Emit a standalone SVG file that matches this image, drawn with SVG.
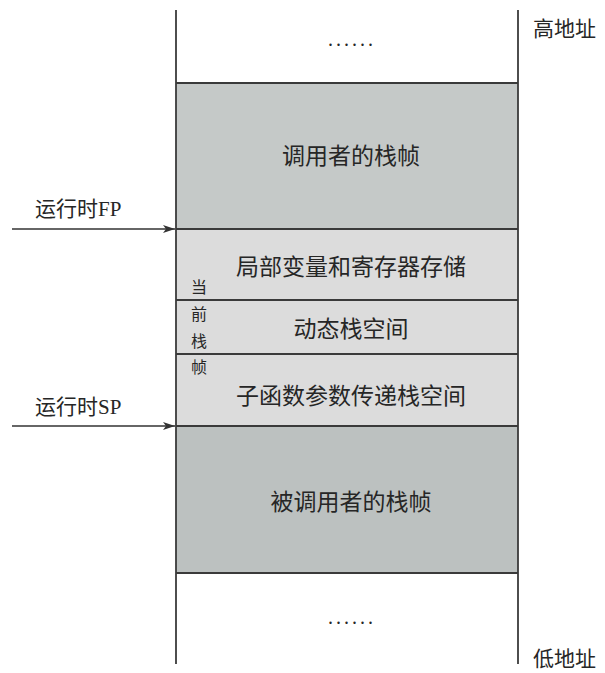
<svg xmlns="http://www.w3.org/2000/svg" width="605" height="673" viewBox="0 0 605 673">
<defs>
<style>
.t{font-family:"Liberation Serif","Noto Sans CJK SC",serif;fill:#262626;dominant-baseline:central}
.m{font-size:23px;text-anchor:middle}
.d{font-size:20px;text-anchor:middle;letter-spacing:3px}
.s{font-size:16px;text-anchor:middle}
.l{font-size:21px}
.div{stroke:#3a3a3a;stroke-width:1.8;fill:none}
.conn{stroke:#333;stroke-width:1.6;fill:none}
</style>
<marker id="ah" viewBox="0 0 12 8" refX="12" refY="4" markerWidth="12" markerHeight="8" markerUnits="userSpaceOnUse" orient="auto">
<path d="M0,0 L12,4 L0,8 L3,4 Z" fill="#333"/>
</marker>
</defs>
<rect width="605" height="673" fill="#fff"/>
<g id="top-space">
<text class="t d" x="352" y="39">......</text>
</g>
<g id="caller-frame">
<rect x="176" y="83" width="342" height="146" fill="#c5c9c8"/>
<text class="t m" x="351" y="156">调用者的栈帧</text>
</g>
<g id="current-frame">
<rect x="176" y="229" width="342" height="197" fill="#dcdcdc"/>
<text class="t s" x="199" y="287">当</text>
<text class="t s" x="199" y="314">前</text>
<text class="t s" x="199" y="341">栈</text>
<text class="t s" x="199" y="367">帧</text>
</g>
<g id="local-vars">
<text class="t m" x="351" y="267">局部变量和寄存器存储</text>
</g>
<g id="dynamic-stack">
<text class="t m" x="351" y="329">动态栈空间</text>
</g>
<g id="param-stack">
<text class="t m" x="351" y="396">子函数参数传递栈空间</text>
</g>
<g id="callee-frame">
<rect x="176" y="426" width="342" height="147" fill="#bcc1c0"/>
<text class="t m" x="351" y="502">被调用者的栈帧</text>
</g>
<g id="bottom-space">
<text class="t d" x="352" y="617">......</text>
</g>
<g id="dividers">
<line class="div" x1="176" y1="83" x2="518" y2="83"/>
<line class="div" x1="176" y1="229" x2="518" y2="229"/>
<line class="div" x1="176" y1="300" x2="518" y2="300"/>
<line class="div" x1="176" y1="354" x2="518" y2="354"/>
<line class="div" x1="176" y1="426" x2="518" y2="426"/>
<line class="div" x1="176" y1="573" x2="518" y2="573"/>
<line class="div" x1="176" y1="10" x2="176" y2="664" stroke-width="2"/>
<line class="div" x1="518" y1="10" x2="518" y2="664" stroke-width="2"/>
</g>
<g id="high-addr"><text class="t l" x="533" y="29">高地址</text></g>
<g id="low-addr"><text class="t l" x="533" y="659">低地址</text></g>
<g id="fp-label"><text class="t l" x="35" y="209">运行时FP</text></g>
<g id="sp-label"><text class="t l" x="35" y="407">运行时SP</text></g>
<g id="connectors">
<line class="conn" x1="12" y1="229" x2="175" y2="229" marker-end="url(#ah)"/>
<line class="conn" x1="12" y1="426" x2="175" y2="426" marker-end="url(#ah)"/>
</g>
</svg>
